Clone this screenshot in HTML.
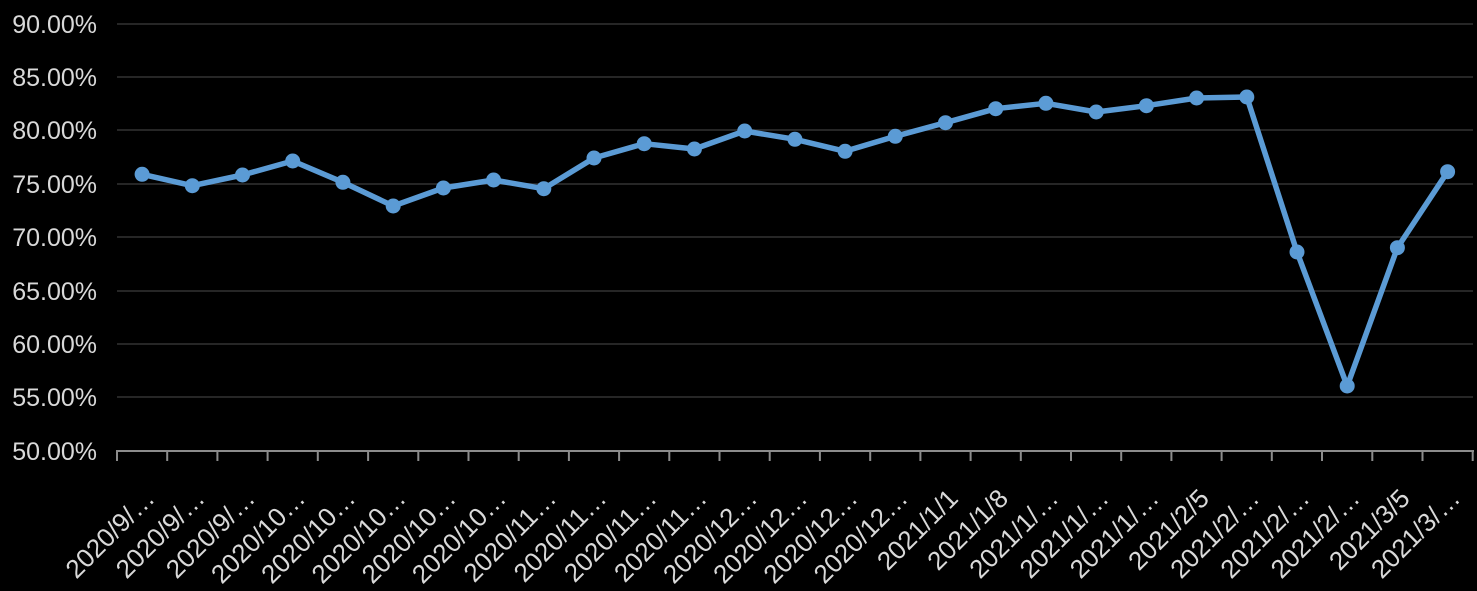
<!DOCTYPE html>
<html>
<head>
<meta charset="utf-8">
<style>
  html, body { margin: 0; padding: 0; background: #000; }
  body { width: 1477px; height: 591px; overflow: hidden; }
  svg { display: block; }
  text { font-family: "Liberation Sans", "DejaVu Sans", sans-serif; fill: #d9d9d9; }
</style>
</head>
<body>
<svg width="1477" height="591" viewBox="0 0 1477 591" xmlns="http://www.w3.org/2000/svg">
  <rect x="0" y="0" width="1477" height="591" fill="#000"/>
  <!-- gridlines -->
  <g stroke="#262626" stroke-width="2">
    <line x1="117" y1="24" x2="1473" y2="24"/>
    <line x1="117" y1="77" x2="1473" y2="77"/>
    <line x1="117" y1="130" x2="1473" y2="130"/>
    <line x1="117" y1="184" x2="1473" y2="184"/>
    <line x1="117" y1="237" x2="1473" y2="237"/>
    <line x1="117" y1="291" x2="1473" y2="291"/>
    <line x1="117" y1="344" x2="1473" y2="344"/>
    <line x1="117" y1="397" x2="1473" y2="397"/>
  </g>
  <!-- y labels -->
  <g font-size="25" text-anchor="end">
    <text x="97" y="33">90.00%</text>
    <text x="97" y="86">85.00%</text>
    <text x="97" y="139">80.00%</text>
    <text x="97" y="193">75.00%</text>
    <text x="97" y="246">70.00%</text>
    <text x="97" y="300">65.00%</text>
    <text x="97" y="353">60.00%</text>
    <text x="97" y="406">55.00%</text>
    <text x="97" y="460">50.00%</text>
  </g>
  <!-- x axis -->
  <g stroke="#8c8c8c" stroke-width="2">
    <line x1="116" y1="451" x2="1474" y2="451"/>
    <line x1="117" y1="451" x2="117" y2="461"/>
    <line x1="167.2" y1="451" x2="167.2" y2="461"/>
    <line x1="217.4" y1="451" x2="217.4" y2="461"/>
    <line x1="267.6" y1="451" x2="267.6" y2="461"/>
    <line x1="317.8" y1="451" x2="317.8" y2="461"/>
    <line x1="368.1" y1="451" x2="368.1" y2="461"/>
    <line x1="418.3" y1="451" x2="418.3" y2="461"/>
    <line x1="468.5" y1="451" x2="468.5" y2="461"/>
    <line x1="518.7" y1="451" x2="518.7" y2="461"/>
    <line x1="568.9" y1="451" x2="568.9" y2="461"/>
    <line x1="619.1" y1="451" x2="619.1" y2="461"/>
    <line x1="669.3" y1="451" x2="669.3" y2="461"/>
    <line x1="719.5" y1="451" x2="719.5" y2="461"/>
    <line x1="769.7" y1="451" x2="769.7" y2="461"/>
    <line x1="819.9" y1="451" x2="819.9" y2="461"/>
    <line x1="870.2" y1="451" x2="870.2" y2="461"/>
    <line x1="920.4" y1="451" x2="920.4" y2="461"/>
    <line x1="970.6" y1="451" x2="970.6" y2="461"/>
    <line x1="1020.8" y1="451" x2="1020.8" y2="461"/>
    <line x1="1071" y1="451" x2="1071" y2="461"/>
    <line x1="1121.2" y1="451" x2="1121.2" y2="461"/>
    <line x1="1171.4" y1="451" x2="1171.4" y2="461"/>
    <line x1="1221.6" y1="451" x2="1221.6" y2="461"/>
    <line x1="1271.8" y1="451" x2="1271.8" y2="461"/>
    <line x1="1322" y1="451" x2="1322" y2="461"/>
    <line x1="1372.3" y1="451" x2="1372.3" y2="461"/>
    <line x1="1422.5" y1="451" x2="1422.5" y2="461"/>
    <line x1="1472.7" y1="451" x2="1472.7" y2="461"/>
  </g>
  <!-- x labels -->
  <g font-size="26" text-anchor="end">
    <text transform="translate(156.1,500) rotate(-45)">2020/9/…</text>
    <text transform="translate(206.3,500) rotate(-45)">2020/9/…</text>
    <text transform="translate(256.5,500) rotate(-45)">2020/9/…</text>
    <text transform="translate(306.7,500) rotate(-45)">2020/10…</text>
    <text transform="translate(356.9,500) rotate(-45)">2020/10…</text>
    <text transform="translate(407.2,500) rotate(-45)">2020/10…</text>
    <text transform="translate(457.4,500) rotate(-45)">2020/10…</text>
    <text transform="translate(507.6,500) rotate(-45)">2020/10…</text>
    <text transform="translate(557.8,500) rotate(-45)">2020/11…</text>
    <text transform="translate(608,500) rotate(-45)">2020/11…</text>
    <text transform="translate(658.2,500) rotate(-45)">2020/11…</text>
    <text transform="translate(708.4,500) rotate(-45)">2020/11…</text>
    <text transform="translate(758.7,500) rotate(-45)">2020/12…</text>
    <text transform="translate(808.9,500) rotate(-45)">2020/12…</text>
    <text transform="translate(859.1,500) rotate(-45)">2020/12…</text>
    <text transform="translate(909.3,500) rotate(-45)">2020/12…</text>
    <text transform="translate(959.5,500) rotate(-45)">2021/1/1</text>
    <text transform="translate(1009.7,500) rotate(-45)">2021/1/8</text>
    <text transform="translate(1059.9,500) rotate(-45)">2021/1/…</text>
    <text transform="translate(1110.2,500) rotate(-45)">2021/1/…</text>
    <text transform="translate(1160.4,500) rotate(-45)">2021/1/…</text>
    <text transform="translate(1210.6,500) rotate(-45)">2021/2/5</text>
    <text transform="translate(1260.8,500) rotate(-45)">2021/2/…</text>
    <text transform="translate(1311,500) rotate(-45)">2021/2/…</text>
    <text transform="translate(1361.2,500) rotate(-45)">2021/2/…</text>
    <text transform="translate(1411.4,500) rotate(-45)">2021/3/5</text>
    <text transform="translate(1461.6,500) rotate(-45)">2021/3/…</text>
  </g>
  <!-- series -->
  <polyline fill="none" stroke="#5b9bd5" stroke-width="5.5" stroke-linejoin="round" stroke-linecap="round"
    points="142.1,174.3 192.3,185.7 242.5,175 292.7,161 342.9,182.3 393.2,206 443.4,188 493.6,180 543.8,188.7 594,158 644.2,143.7 694.4,149 744.7,131 794.9,139.3 845.1,151.3 895.3,136.3 945.5,122.7 995.7,108.7 1045.9,103.3 1096.2,112 1146.4,105.7 1196.6,98 1246.8,97 1297,252 1347.2,386 1397.4,247.7 1447.6,171.7"/>
  <g fill="#5b9bd5">
    <circle cx="142.1" cy="174.3" r="7.5"/>
    <circle cx="192.3" cy="185.7" r="7.5"/>
    <circle cx="242.5" cy="175" r="7.5"/>
    <circle cx="292.7" cy="161" r="7.5"/>
    <circle cx="342.9" cy="182.3" r="7.5"/>
    <circle cx="393.2" cy="206" r="7.5"/>
    <circle cx="443.4" cy="188" r="7.5"/>
    <circle cx="493.6" cy="180" r="7.5"/>
    <circle cx="543.8" cy="188.7" r="7.5"/>
    <circle cx="594" cy="158" r="7.5"/>
    <circle cx="644.2" cy="143.7" r="7.5"/>
    <circle cx="694.4" cy="149" r="7.5"/>
    <circle cx="744.7" cy="131" r="7.5"/>
    <circle cx="794.9" cy="139.3" r="7.5"/>
    <circle cx="845.1" cy="151.3" r="7.5"/>
    <circle cx="895.3" cy="136.3" r="7.5"/>
    <circle cx="945.5" cy="122.7" r="7.5"/>
    <circle cx="995.7" cy="108.7" r="7.5"/>
    <circle cx="1045.9" cy="103.3" r="7.5"/>
    <circle cx="1096.2" cy="112" r="7.5"/>
    <circle cx="1146.4" cy="105.7" r="7.5"/>
    <circle cx="1196.6" cy="98" r="7.5"/>
    <circle cx="1246.8" cy="97" r="7.5"/>
    <circle cx="1297" cy="252" r="7.5"/>
    <circle cx="1347.2" cy="386" r="7.5"/>
    <circle cx="1397.4" cy="247.7" r="7.5"/>
    <circle cx="1447.6" cy="171.7" r="7.5"/>
  </g>
</svg>
</body>
</html>
